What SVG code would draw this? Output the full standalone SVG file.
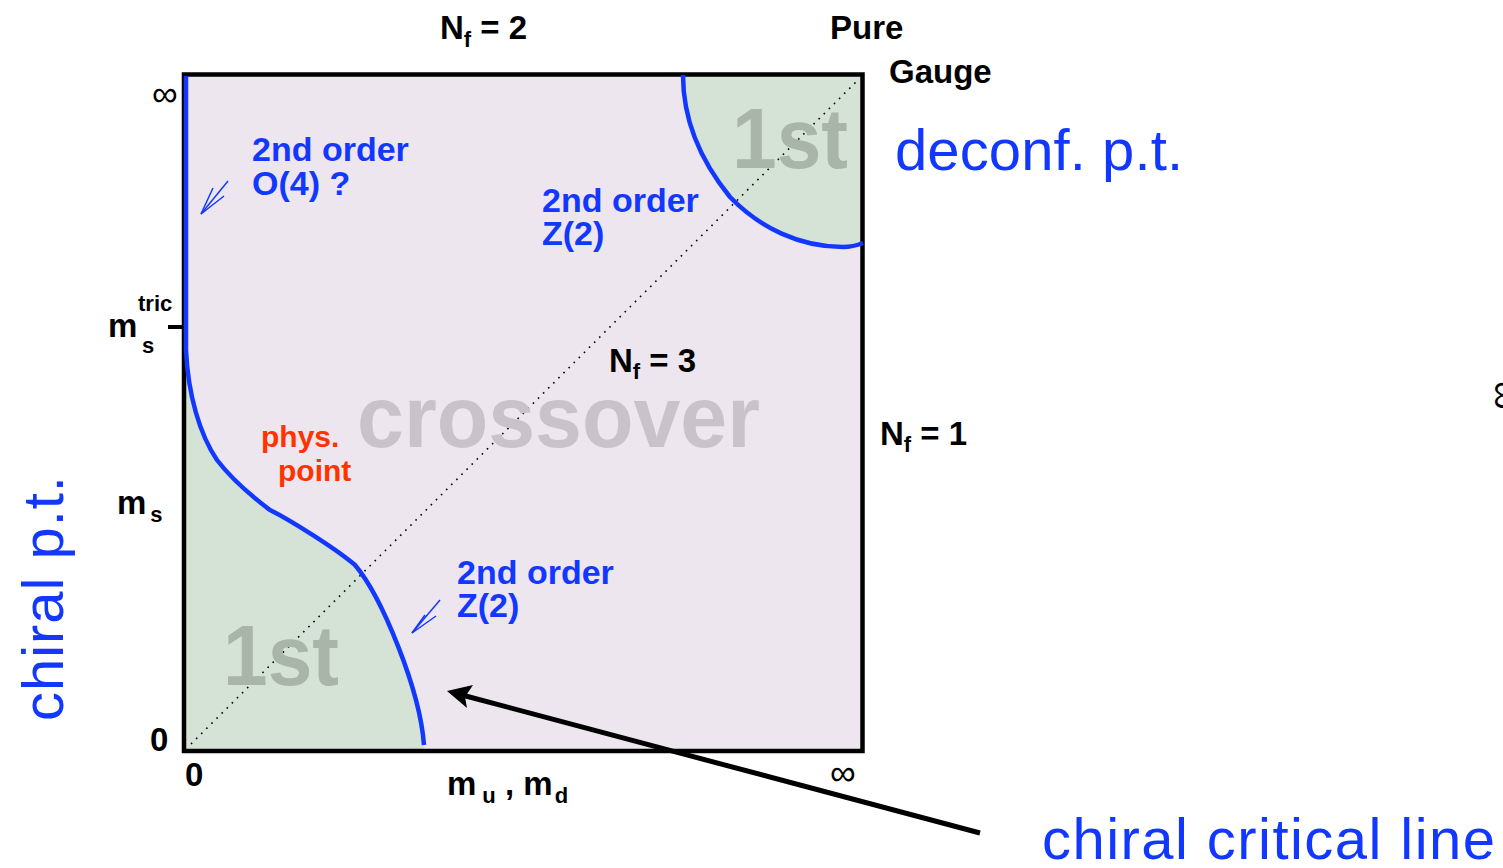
<svg xmlns="http://www.w3.org/2000/svg" width="1503" height="868" viewBox="0 0 1503 868">
<style>
.b{font-family:"Liberation Sans",Arial,sans-serif;font-weight:bold;font-size:33px;fill:#000}
.bl{font-family:"Liberation Sans",Arial,sans-serif;font-weight:bold;font-size:34px;fill:#1238ff}
.big{font-family:"Liberation Sans",Arial,sans-serif;font-size:58px;fill:#1238ff}
.red{font-family:"Liberation Sans",Arial,sans-serif;font-weight:bold;font-size:30px;fill:#ff3300}
.g1{font-family:"Liberation Sans",Arial,sans-serif;font-weight:bold;font-size:85px;fill:#a9b5a9}
.cr{font-family:"Liberation Sans",Arial,sans-serif;font-weight:bold;font-size:88px;fill:#c9c2ca}
.sub{font-size:22px}
.inf{font-family:"Liberation Sans",Arial,sans-serif;font-size:36px;fill:#000}
.curve{fill:none;stroke:#1238ff;stroke-width:4.5}
.thin{fill:none;stroke:#1238ff;stroke-width:1.5}
</style>
<rect width="1503" height="868" fill="#fff"/>
<g id="plot">
<rect x="184" y="74.5" width="678.5" height="676.5" fill="#ede6ee"/>
<path d="M186,350 C188,395 200,435 217,460 C230,477 250,495 270,510 C290,520 335,548 355,565 C382,597 420,690 424,749 L186,749 Z" fill="#d5e2d6"/>
<path d="M683,76 C683,120 700,160 730,197 C760,228 800,247 843,247 C852,247 858,245 861,243 L861,76 Z" fill="#d5e2d6"/>
<rect x="184" y="74.5" width="678.5" height="676.5" fill="none" stroke="#000" stroke-width="4.5"/>
<line x1="168" y1="327" x2="184" y2="327" stroke="#000" stroke-width="4"/>
<line x1="191" y1="744" x2="858" y2="80" stroke="#000" stroke-width="1.6" stroke-dasharray="1.6 5.6"/>
</g>
<g id="labels-gray">
<text class="g1" x="732" y="168" textLength="116" lengthAdjust="spacingAndGlyphs">1st</text>
<text class="g1" x="223" y="685" textLength="116" lengthAdjust="spacingAndGlyphs">1st</text>
<text class="cr" x="357" y="447" textLength="403" lengthAdjust="spacingAndGlyphs">crossover</text>
</g>
<g id="connectors">
<path class="curve" d="M186,76 L186,350 C188,395 200,435 217,460 C230,477 250,495 270,510 C290,520 335,548 355,565 C382,597 420,690 424,745"/>
<path class="curve" d="M683,75 C683,120 700,160 730,197 C760,228 800,247 843,247 C852,247 858,245 863,243"/>
<line class="thin" x1="228" y1="181" x2="201" y2="214"/>
<polyline class="thin" points="213,188 201,214 224,196"/>
<line class="thin" x1="440" y1="600" x2="412" y2="633"/>
<polyline class="thin" points="425,615 412,633 436,616"/>
<line x1="980" y1="833" x2="462" y2="695" stroke="#000" stroke-width="5"/>
<polygon points="447,691 473,685 465,697 467,708" fill="#000"/>
</g>
<g id="axis-labels">
<text class="b" x="440" y="39">N<tspan class="sub" dy="8">f</tspan><tspan dy="-8"> = 2</tspan></text>
<text class="b" x="830" y="39">Pure</text>
<text class="b" x="889" y="83">Gauge</text>
<text class="inf" x="152" y="106">∞</text>
<text class="b" x="108" y="337">m</text>
<text class="b" x="138" y="311" style="font-size:22px">tric</text>
<text class="b" x="142" y="353" style="font-size:22px">s</text>
<text class="b" x="609" y="372">N<tspan class="sub" dy="7">f</tspan><tspan dy="-7"> = 3</tspan></text>
<text class="b" x="880" y="445">N<tspan class="sub" dy="7">f</tspan><tspan dy="-7"> = 1</tspan></text>
<text class="b" x="117" y="514">m<tspan class="sub" dx="4" dy="8">s</tspan></text>
<text class="b" x="150" y="751">0</text>
<text class="b" x="185" y="786">0</text>
<text class="b" x="447" y="795">m<tspan class="sub" dx="6" dy="8">u</tspan><tspan dy="-8"> , m</tspan><tspan class="sub" dx="2" dy="8">d</tspan></text>
<text class="inf" x="830" y="785">∞</text>
<text class="inf" transform="translate(1491,381) rotate(90)" style="font-size:40px">∞</text>
</g>
<g id="labels-blue">
<text class="bl" x="252" y="161">2nd order</text>
<text class="bl" x="252" y="195">O(4) ?</text>
<text class="bl" x="542" y="212">2nd order</text>
<text class="bl" x="542" y="245">Z(2)</text>
<text class="bl" x="457" y="584">2nd order</text>
<text class="bl" x="457" y="617">Z(2)</text>
<text class="red" x="261" y="447">phys.</text>
<text class="red" x="278" y="481">point</text>
<text class="big" x="895" y="170" textLength="288">deconf. p.t.</text>
<text class="big" x="1042" y="859" textLength="453">chiral critical line</text>
<text class="big" transform="translate(63,721) rotate(-90)" textLength="245">chiral p.t.</text>
</g>
</svg>
